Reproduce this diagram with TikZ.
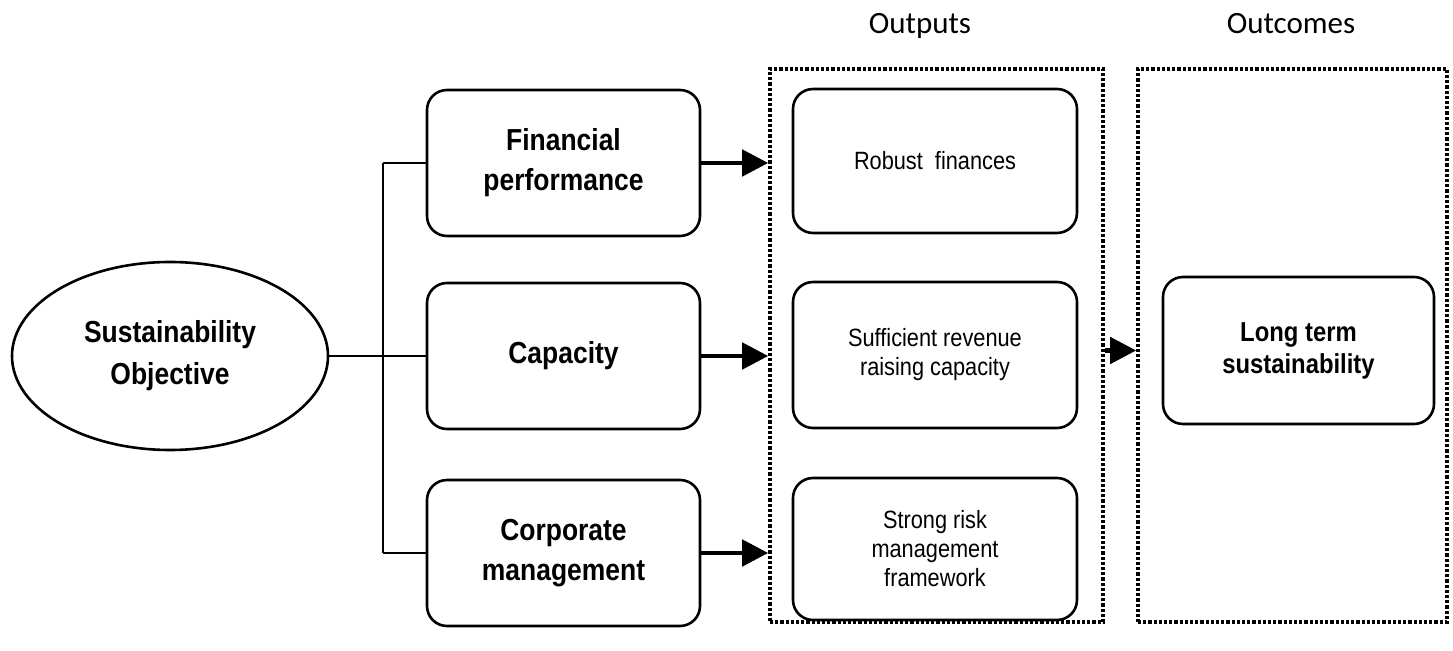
\documentclass[tikz,border=0pt]{standalone}
\usepackage{fontspec}
\setmainfont{Liberation Sans}
\newfontfamily\narrowsans[FakeStretch=0.87]{Liberation Sans}
\newfontfamily\calibrifont{Carlito}
\usetikzlibrary{shapes.geometric,arrows.meta}
\begin{document}
\begin{tikzpicture}[x=0.5pt,y=-0.5pt,
  box/.style={draw, line width=1.3pt, rounded corners=10pt, minimum width=136.5pt, minimum height=73pt, inner sep=0pt, align=center},
  leftbox/.style={box, font=\narrowsans\bfseries\fontsize{15.2}{20}\selectfont},
  outbox/.style={box, minimum width=142pt, minimum height=72pt, font=\narrowsans\fontsize{12.5}{14.5}\selectfont},
  ltbox/.style={box, minimum width=135.5pt, minimum height=73.5pt, font=\narrowsans\bfseries\fontsize{13.7}{16}\selectfont},
  objstyle/.style={draw, ellipse, line width=1.3pt, minimum width=158pt, minimum height=94pt, inner sep=0pt, align=center, font=\narrowsans\bfseries\fontsize{15.2}{21}\selectfont},
  dotbox/.style={draw, line width=1.8pt, dash pattern=on 1.6pt off 1pt, minimum height=276.5pt, inner sep=0pt},
  conn/.style={line width=1pt},
  flow/.style={line width=2.4pt, -{Triangle[length=13pt,width=13pt]}},
  head/.style={font=\calibrifont\fontsize{15.5}{18}\selectfont, anchor=base}
]
\useasboundingbox (0,0) rectangle (1453,651);

% headings
\node[head] (hout) at (920,34) {Outputs};
\node[head] (hoc) at (1291,34) {Outcomes};

% objective
\node[objstyle] (obj) at (170,356) {Sustainability\\Objective};

% left column
\node[leftbox] (fin) at (563.5,163) {Financial\\performance};
\node[leftbox] (cap) at (563.5,356) {Capacity};
\node[leftbox] (corp) at (563.5,553) {Corporate\\management};

% dotted containers
\node[dotbox, minimum width=166.5pt] (out) at (936.5,345.5) {};
\node[dotbox, minimum width=154.5pt] (oc) at (1292.5,345.5) {};

% outputs
\node[outbox] (rob) at (935,161) {Robust\ \ finances};
\node[outbox, minimum height=73pt] (suf) at (935,355) {Sufficient revenue\\raising capacity};
\node[outbox, minimum height=71pt] (risk) at (935,549) {Strong risk\\management\\framework};

% outcome
\node[ltbox] (lt) at (1298.5,350.5) {Long term\\sustainability};

% connectors
\coordinate (trunkx) at (383,0);
\coordinate (tt) at (fin.west -| trunkx);
\coordinate (tm) at (cap.west -| trunkx);
\coordinate (tb) at (corp.west -| trunkx);
\draw[conn] (obj.east) -- (cap.west);
\draw[conn] (tt) -- (tb);
\draw[conn] (tt) -- (fin.west);
\draw[conn] (tb) -- (corp.west);

% arrows
\draw[flow] (fin.east) -- (fin.east -| out.west);
\draw[flow] (cap.east) -- (cap.east -| out.west);
\draw[flow] (corp.east) -- (corp.east -| out.west);
\draw[flow] (out.east |- lt.west) -- (oc.west |- lt.west);
\end{tikzpicture}
\end{document}
